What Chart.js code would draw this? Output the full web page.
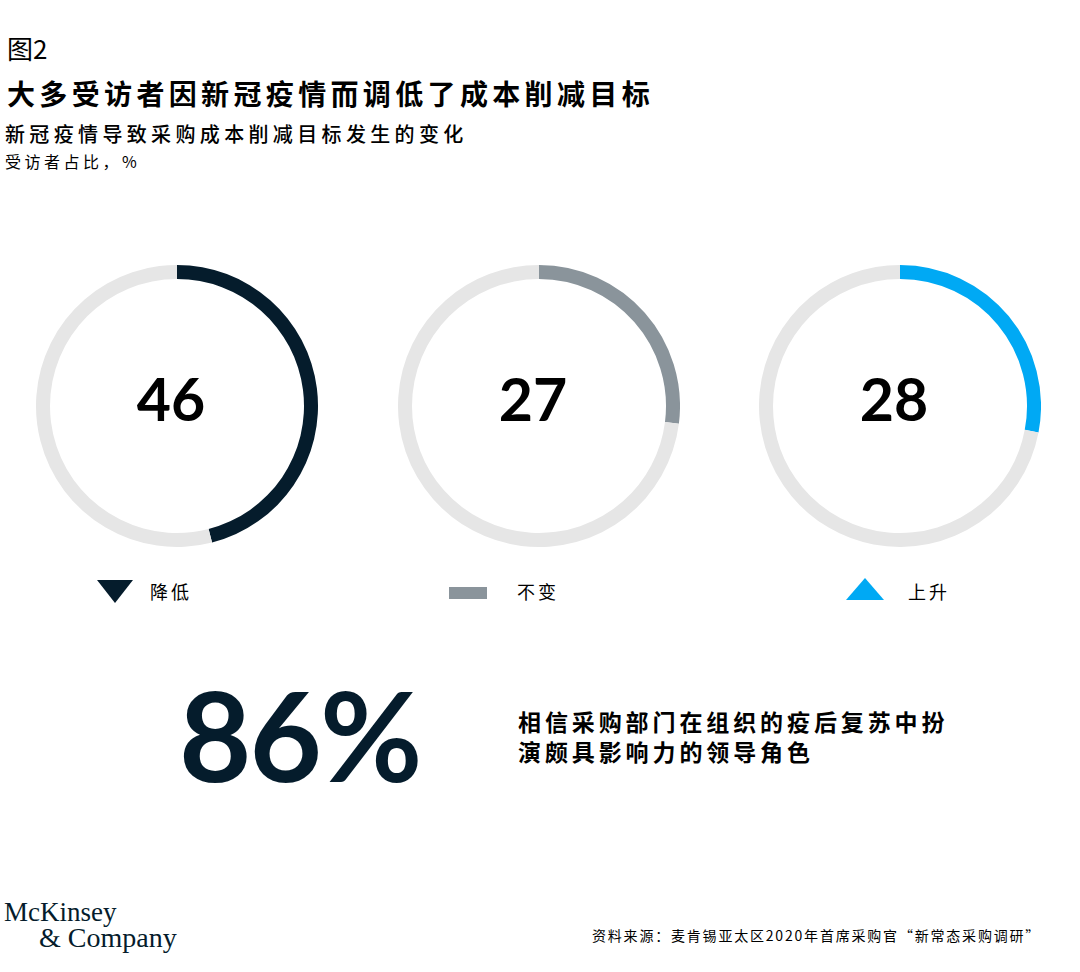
<!DOCTYPE html>
<html>
<head>
<meta charset="utf-8">
<script src="https://cdn.jsdelivr.net/npm/chart.js@4"></script>
<style>
  body { margin: 0; background: #fff; }
  #page { position: relative; width: 1080px; height: 972px; overflow: hidden; font-family: "Noto Sans CJK SC", sans-serif; color: #000; }
  .abs { position: absolute; white-space: nowrap; }
  canvas.donut { position: absolute; top: 265px; }
  .tri-down { width: 0; height: 0; border-left: 18px solid transparent; border-right: 18px solid transparent; border-top: 23px solid #051C2C; }
  .tri-up { width: 0; height: 0; border-left: 19px solid transparent; border-right: 19px solid transparent; border-bottom: 22px solid #00A9F4; }
  .bar { width: 38px; height: 12px; background: #8A949B; }
  .leg { font-size: 18px; letter-spacing: 3px; line-height: 20px; }
</style>
</head>
<body>
<div id="page">
  <div class="abs" style="left:7px;top:31px;font-size:26px;line-height:34px;">图2</div>
  <div class="abs" style="left:7px;top:76px;font-size:28px;line-height:34px;font-weight:700;letter-spacing:4.35px;">大多受访者因新冠疫情而调低了成本削减目标</div>
  <div class="abs" style="left:5px;top:121px;font-size:20px;line-height:26px;font-weight:500;letter-spacing:4.35px;">新冠疫情导致采购成本削减目标发生的变化</div>
  <div class="abs" style="left:5px;top:150px;font-size:16px;line-height:22px;letter-spacing:3.5px;">受访者占比，%</div>

  <canvas class="donut" id="d0" width="282" height="282" style="left:36px;"></canvas>
  <canvas class="donut" id="d1" width="282" height="282" style="left:398px;"></canvas>
  <canvas class="donut" id="d2" width="282" height="282" style="left:759px;"></canvas>

  <div class="abs tri-down" style="left:97px;top:580px;"></div>
  <div class="abs leg" id="l0" style="left:150px;top:581px;"></div>
  <div class="abs bar" style="left:449px;top:587px;"></div>
  <div class="abs leg" id="l1" style="left:517px;top:581px;"></div>
  <div class="abs tri-up" style="left:846px;top:578px;"></div>
  <div class="abs leg" id="l2" style="left:908px;top:581px;"></div>

  <div class="abs" id="big" style="left:179px;top:672px;font-family:Lato,sans-serif;font-weight:700;font-size:125px;line-height:124px;color:#051C2C;letter-spacing:-2px;"></div>
  <div class="abs" id="note" style="left:518px;top:706px;font-size:23px;line-height:30px;font-weight:700;letter-spacing:3.9px;"></div>

  <div class="abs" style="left:4px;top:897px;font-family:'Liberation Serif',serif;font-size:27px;line-height:30px;color:#051C2C;letter-spacing:0px;">McKinsey</div>
  <div class="abs" style="left:39px;top:923px;font-family:'Liberation Serif',serif;font-size:28px;line-height:30px;color:#051C2C;letter-spacing:0px;">&amp; Company</div>
  <div class="abs" style="left:592px;top:924px;font-size:14px;line-height:22px;letter-spacing:1.8px;">资料来源：麦肯锡亚太区2020年首席采购官“新常态采购调研”</div>
</div>
<script>
// 数据
const categories = ['降低', '不变', '上升'];
const shares = [46, 27, 28];
const bigStat = '86%';
const bigStatText = ['相信采购部门在组织的疫后复苏中扮', '演颇具影响力的领导角色'];

const colors = ['#051C2C', '#8A949B', '#00A9F4'];
const restColor = '#E6E6E6';

// 中心数字
const centerText = {
    id: 'centerText',
    afterDraw(chart, args, opts) {
        const { ctx } = chart;
        const arc = chart.getDatasetMeta(0).data[0];
        ctx.save();
        ctx.font = '700 59px Lato, sans-serif';
        ctx.fillStyle = '#000';
        ctx.textAlign = 'center';
        ctx.textBaseline = 'middle';
        ctx.fillText(opts.text, arc.x - 6, arc.y - 4);
        ctx.restore();
    }
};

shares.forEach((v, i) => {
    new Chart(document.getElementById('d' + i), {
        type: 'doughnut',
        data: {
            labels: [categories[i], ''],
            datasets: [{
                data: [v, 100 - v],
                backgroundColor: [colors[i], restColor],
                borderWidth: 0
            }]
        },
        options: {
            responsive: false,
            animation: false,
            cutout: 127,
            layout: { padding: 0 },
            events: [],
            plugins: {
                legend: { display: false },
                tooltip: { enabled: false },
                centerText: { text: String(v) }
            }
        },
        plugins: [centerText]
    });
    document.getElementById('l' + i).textContent = categories[i];
});

document.getElementById('big').textContent = bigStat;
document.getElementById('note').innerHTML = bigStatText.join('<br>');
</script>
</body>
</html>
